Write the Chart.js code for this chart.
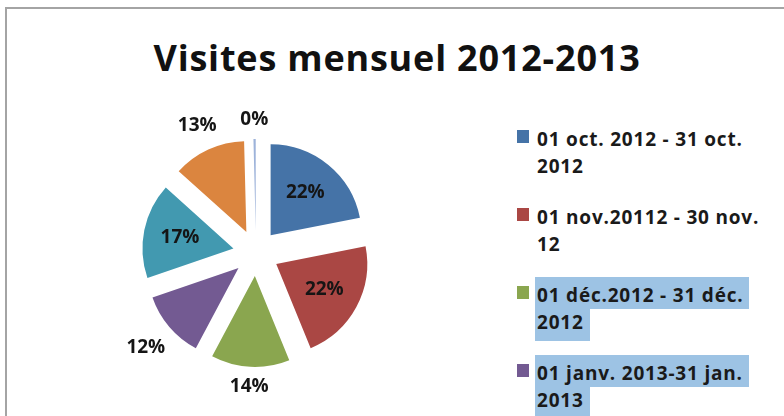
<!DOCTYPE html>
<html>
<head>
<meta charset="utf-8">
<script src="https://cdn.jsdelivr.net/npm/chart.js@4.4.1/dist/chart.umd.min.js"></script>
<style>
    html, body { margin: 0; padding: 0; width: 784px; height: 416px; overflow: hidden; background: #fff; }
    #frame { position: absolute; left: 5px; top: 7px; width: 900px; height: 600px; border: 2px solid #a4a4a4; }
    #title { position: absolute; left: 10px; width: 774px; top: 37px; text-align: center;
             font: bold 36px/42px "Open Sans", sans-serif; letter-spacing: 0.8px; color: #111; white-space: nowrap; }
    #pie { position: absolute; left: 106px; top: 103px; }
    #legend { position: absolute; left: 517px; top: 0; width: 280px; height: 416px; }
    .item { position: absolute; left: 0; font: bold 19px/27px "Open Sans", sans-serif; letter-spacing: 0.8px; color: #1a1a1a; }
    .swatch { position: absolute; left: 0; top: 4px; width: 12px; height: 13px; }
    .lines { position: absolute; left: 18px; top: 0; white-space: nowrap; }
    .ln { display: table; padding: 0 6px 0 2px; }
    .sel .ln { background: #9dc3e4; }
    .sel .ln:first-child { padding-top: 5px; margin-top: -5px; }
    .sel .ln:last-child { padding-bottom: 5px; }
</style>
</head>
<body>
<div id="frame"></div>
<div id="title">Visites mensuel 2012-2013</div>
<canvas id="pie" width="300" height="300"></canvas>
<div id="legend"></div>
<script>
// periods (legend), the last three are cut off by the frame in the original
const periodes = [
    "01 oct. 2012 - 31 oct. 2012",
    "01 nov.20112 - 30 nov. 12",
    "01 déc.2012 - 31 déc. 2012",
    "01 janv. 2013-31 jan. 2013",
    "01 févr. 2013-28 févr. 2013",
    "01 mars 2013-31 mars 2013",
    "01 avr. 2013-30 avr. 2013"
];
// share of visits per period (%)
const visites = [22, 22, 14, 12, 17, 13, 0.4];
const couleurs = ["#4573a7", "#aa4744", "#8aa64f", "#735a92", "#4299b0", "#db853f", "#9db3da"];
// legend entries shown as selected in the original
const selection = [2, 3];

// labels of big slices go inside, others outside
const insideMin = 15;

// push every slice away from the centre (same radius for all, like excel)
const explode = {
    id: 'explode',
    afterDatasetsUpdate(chart, args, opts) {
        chart.getDatasetMeta(0).data.forEach(arc => {
            const mid = (arc.startAngle + arc.endAngle) / 2;
            arc.x += Math.cos(mid) * opts.distance;
            arc.y += Math.sin(mid) * opts.distance;
        });
    }
};

const sliceLabels = {
    id: 'sliceLabels',
    afterDatasetsDraw(chart) {
        const ctx = chart.ctx;
        const meta = chart.getDatasetMeta(0);
        const values = chart.data.datasets[0].data;
        const total = values.reduce((a, b) => a + b, 0);
        ctx.save();
        ctx.font = 'bold 19px "Open Sans", sans-serif';
        ctx.fillStyle = '#151515';
        ctx.textAlign = 'center';
        ctx.textBaseline = 'middle';
        meta.data.forEach((arc, i) => {
            const pct = Math.round(values[i] / total * 100);
            const text = pct + '%';
            const mid = (arc.startAngle + arc.endAngle) / 2;
            let d;
            if (pct >= insideMin) {
                d = arc.outerRadius * 0.6;
            } else {
                const hw = ctx.measureText(text).width / 2;
                d = arc.outerRadius + 11 + hw * Math.abs(Math.cos(mid)) + 8 * Math.abs(Math.sin(mid));
            }
            ctx.fillText(text, arc.x + Math.cos(mid) * d, arc.y + Math.sin(mid) * d);
        });
        ctx.restore();
    }
};

// pie
const ctx = document.getElementById("pie").getContext("2d");
const myChart = new Chart(ctx, {
    type: 'pie',
    data: {
        labels: periodes,
        datasets: [{
            data: visites,
            backgroundColor: couleurs,
            borderWidth: 0,
        }],
    },
    options: {
        responsive: false,
        animation: false,
        events: [],
        radius: 91,
        layout: { padding: 0 },
        plugins: {
            legend: { display: false },
            tooltip: { enabled: false },
            explode: { distance: 23 },
        },
    },
    plugins: [explode, sliceLabels],
});

// html legend, label is split before its last word like in the original
const legend = document.getElementById("legend");
periodes.forEach((label, index) => {
    const cut = label.lastIndexOf(" ");
    const item = document.createElement("div");
    item.className = "item" + (selection.includes(index) ? " sel" : "");
    item.style.top = (126 + index * 78) + "px";
    const sw = document.createElement("div");
    sw.className = "swatch";
    sw.style.background = couleurs[index];
    item.appendChild(sw);
    const lines = document.createElement("div");
    lines.className = "lines";
    [label.slice(0, cut), label.slice(cut + 1)].forEach(t => {
        const ln = document.createElement("div");
        ln.className = "ln";
        ln.textContent = t;
        lines.appendChild(ln);
    });
    item.appendChild(lines);
    legend.appendChild(item);
});
</script>
</body>
</html>
